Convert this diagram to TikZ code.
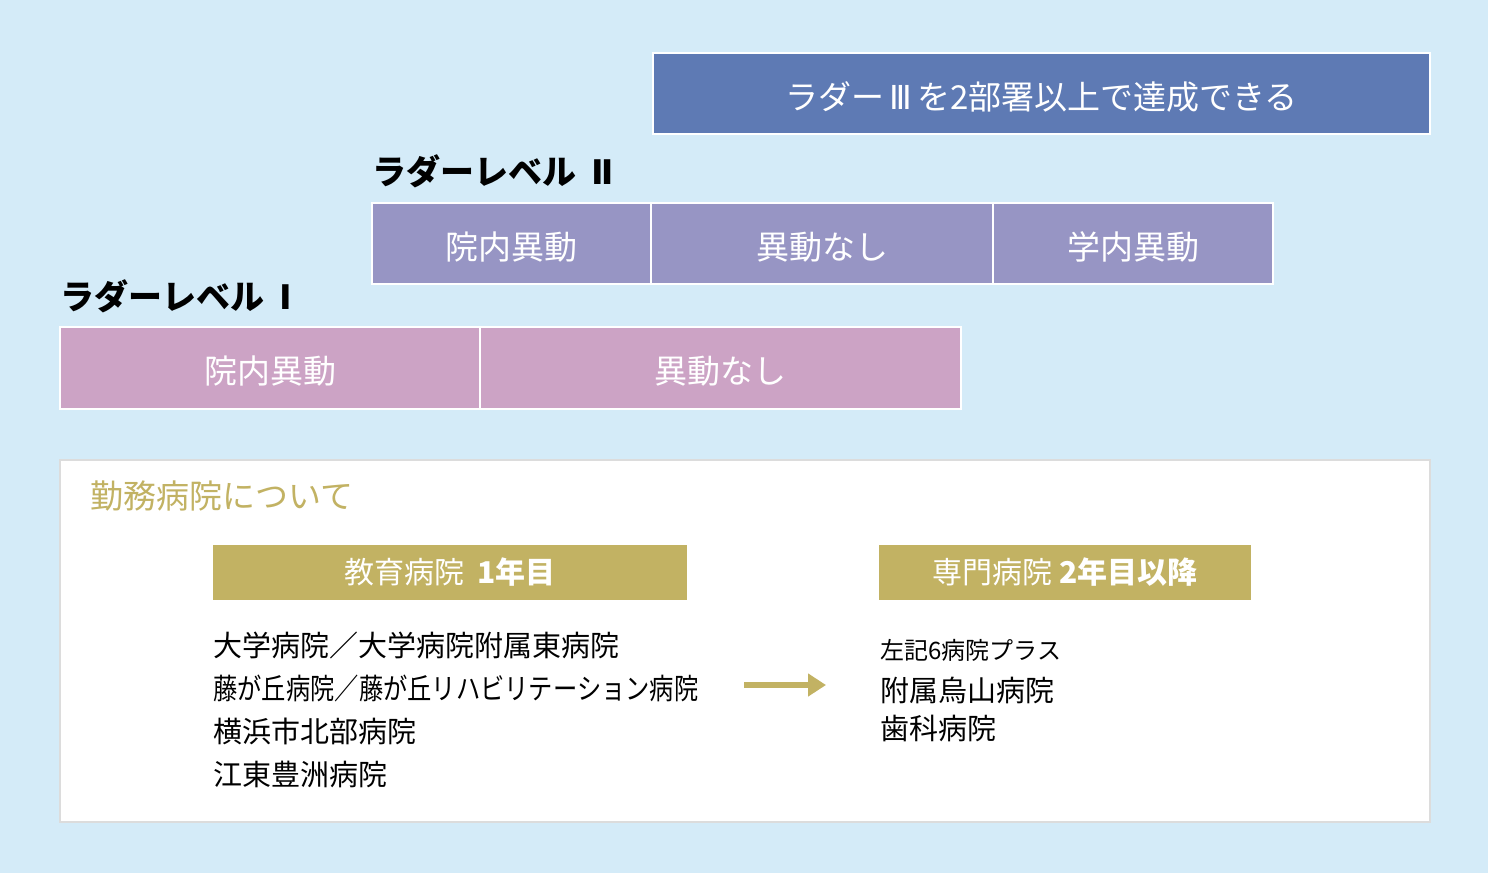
\documentclass[tikz,border=0pt]{standalone}
\usepackage{fontspec}
\setmainfont{Noto Sans CJK JP}
\newfontfamily\numfont{DejaVu Sans}
\usetikzlibrary{arrows.meta}
\definecolor{skybg}{HTML}{D4EBF8}
\definecolor{ladderthree}{HTML}{5E7AB4}
\definecolor{laddertwo}{HTML}{9795C4}
\definecolor{ladderone}{HTML}{CCA3C5}
\definecolor{goldbar}{HTML}{C2B263}
\definecolor{panelline}{HTML}{DCDCDC}
\tikzset{%
    ladderbox/.style={draw=white, line width=1pt, text=white, inner sep=0pt,
        text height=16.5pt, text depth=1pt, font=\fontsize{16.5}{20}\selectfont},
    levelhead/.style={anchor=west, inner sep=0pt, font=\fontsize{17}{20}\selectfont\bfseries},
    goldhead/.style={fill=goldbar, draw=none, text=white, inner sep=0pt,
        minimum height=27.5pt, font=\fontsize{15}{18}\selectfont},
    hosp/.style={anchor=west, inner sep=0pt, font=\fontsize{14.5}{17}\selectfont}
}

\begin{document}
\begin{tikzpicture}[x=0.5pt,y=-0.5pt]
    \fill[skybg] (0,0) rectangle (1488,873);
    \useasboundingbox (0,0) rectangle (1488,873);
    % ladder III
    \node[ladderbox, fill=ladderthree, minimum width=388.5pt, minimum height=40.5pt] (top) at (1041.5,93.5) {ラダー\makebox[1em]{\numfont Ⅲ}を2部署以上で達成できる};
    % ladder II
    \node[levelhead] (headtwo) at (372,171) {ラダーレベル\ \ {\numfont\bfseries Ⅱ}};
    \node[ladderbox, fill=laddertwo, minimum width=139.5pt, minimum height=40.5pt] (twoa) at (511.5,243.5) {院内異動};
    \node[ladderbox, fill=laddertwo, minimum width=171pt, minimum height=40.5pt] (twob) at (822,243.5) {異動なし};
    \node[ladderbox, fill=laddertwo, minimum width=140pt, minimum height=40.5pt] (twoc) at (1133,243.5) {学内異動};
    % ladder I
    \node[levelhead] (headone) at (60,296) {ラダーレベル\ \ {\numfont\bfseries Ⅰ}};
    \node[ladderbox, fill=ladderone, minimum width=210pt, minimum height=41pt] (onea) at (270,368) {院内異動};
    \node[ladderbox, fill=ladderone, minimum width=240.5pt, minimum height=41pt] (oneb) at (720.5,368) {異動なし};
    % hospitals
    \node[fill=white, draw=panelline, line width=1pt, minimum width=685pt, minimum height=181pt] (panel) at (745,641) {};
    \node[anchor=west, inner sep=0pt, text=goldbar, font=\fontsize{16.5}{20}\selectfont] (about) at (90,496) {勤務病院について};
    \node[goldhead, minimum width=237pt] (first) at (450,572.5) {教育病院\ \ \textbf{1年目}};
    \node[goldhead, minimum width=186pt] (later) at (1065,572.5) {専門病院\ \textbf{2年目以降}};
    \node[hosp] (ha) at (213,645) {大学病院／大学病院附属東病院};
    \node[hosp] (hb) at (213,688) {\scalebox{0.837}[1]{藤が丘病院／藤が丘リハビリテーション病院}};
    \node[hosp] (hc) at (213,731) {横浜市北部病院};
    \node[hosp] (hd) at (213,774) {江東豊洲病院};
    \node[hosp, font=\fontsize{12}{14}\selectfont] (plus) at (880,650) {左記6病院プラス};
    \node[hosp] (he) at (880,690) {附属烏山病院};
    \node[hosp] (hf) at (880,728) {歯科病院};
    \coordinate (arrs) at (744,685);
    \coordinate (arre) at (826,685);
    \draw[goldbar, line width=3pt, -{Triangle[length=9pt,width=11pt]}] (arrs) -- (arre);
\end{tikzpicture}
\end{document}
